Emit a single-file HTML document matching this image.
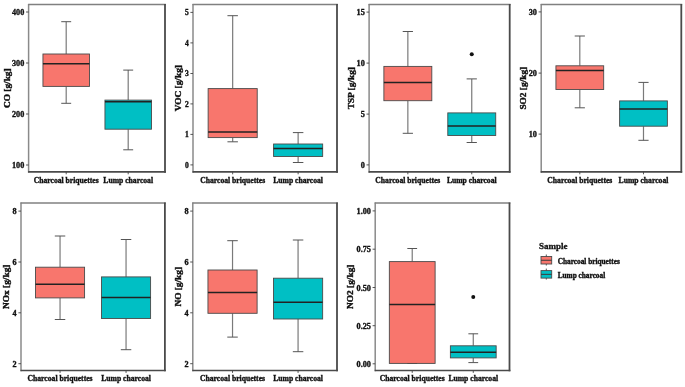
<!DOCTYPE html>
<html><head><meta charset="utf-8"><style>
html,body{margin:0;padding:0;background:#fff;}
body{width:685px;height:387px;overflow:hidden;}
svg{display:block;filter:blur(0.35px);}
text{font-family:"Liberation Serif",serif;font-weight:bold;fill:#111;stroke:#111;stroke-width:0.25px;}
.yl{font-size:8.2px;text-anchor:end;fill:#111;stroke:#111;stroke-width:0.35px;}
.xl{font-size:7.65px;text-anchor:middle;fill:#111;stroke:#111;stroke-width:0.35px;}
.ti{font-size:9.35px;text-anchor:middle;fill:#111;stroke:#111;stroke-width:0.45px;}
.lt{font-size:9px;fill:#111;stroke:#111;stroke-width:0.3px;}
.ll{font-size:7.3px;fill:#111;stroke:#111;stroke-width:0.35px;}
.w{stroke:#555;stroke-width:1.0;}
.wv{stroke:#7a7a7a;stroke-width:1.2;}
.b{stroke:#4a4a4a;stroke-width:0.9;}
.m{stroke:#222;stroke-width:1.5;}
.lm{stroke:#3a3a3a;stroke-width:1.0;}
.fl{stroke:#8a8a8a;stroke-width:1.5;}
.ft{stroke:#808080;stroke-width:1.3;}
.fr{stroke:#4a4a4a;stroke-width:1.8;}
.fb{stroke:#4a4a4a;stroke-width:1.7;}
.t{stroke:#444;stroke-width:0.9;}
</style></head><body>
<svg width="685" height="387" viewBox="0 0 685 387">
<rect width="685" height="387" fill="#fff"/>
<line x1="66.20" y1="21.70" x2="66.20" y2="54.00" class="wv"/>
<line x1="66.20" y1="86.40" x2="66.20" y2="103.30" class="wv"/>
<line x1="61.24" y1="21.70" x2="71.16" y2="21.70" class="w"/>
<line x1="61.24" y1="103.30" x2="71.16" y2="103.30" class="w"/>
<rect x="42.95" y="54.00" width="46.50" height="32.40" fill="#F8766D" class="b"/>
<line x1="42.95" y1="63.80" x2="89.45" y2="63.80" class="m"/>
<line x1="128.20" y1="70.10" x2="128.20" y2="100.10" class="wv"/>
<line x1="128.20" y1="129.20" x2="128.20" y2="149.80" class="wv"/>
<line x1="123.24" y1="70.10" x2="133.16" y2="70.10" class="w"/>
<line x1="123.24" y1="149.80" x2="133.16" y2="149.80" class="w"/>
<rect x="104.95" y="100.10" width="46.50" height="29.10" fill="#00BFC4" class="b"/>
<line x1="104.95" y1="101.70" x2="151.45" y2="101.70" class="m"/>
<line x1="28.60" y1="4.00" x2="28.60" y2="172.70" class="fl"/>
<line x1="28.10" y1="4.50" x2="165.90" y2="4.50" class="ft"/>
<line x1="165.00" y1="4.00" x2="165.00" y2="172.70" class="fr"/>
<line x1="28.10" y1="171.90" x2="165.90" y2="171.90" class="fb"/>
<line x1="26.00" y1="12.00" x2="28.60" y2="12.00" class="t"/>
<text x="24.30" y="15.10" class="yl" style="font-size:8.2px">400</text>
<line x1="26.00" y1="63.00" x2="28.60" y2="63.00" class="t"/>
<text x="24.30" y="66.10" class="yl" style="font-size:8.2px">300</text>
<line x1="26.00" y1="114.00" x2="28.60" y2="114.00" class="t"/>
<text x="24.30" y="117.10" class="yl" style="font-size:8.2px">200</text>
<line x1="26.00" y1="165.00" x2="28.60" y2="165.00" class="t"/>
<text x="24.30" y="168.10" class="yl" style="font-size:8.2px">100</text>
<line x1="66.20" y1="171.90" x2="66.20" y2="174.30" class="t"/>
<text x="66.20" y="183.20" class="xl">Charcoal briquettes</text>
<line x1="128.20" y1="171.90" x2="128.20" y2="174.30" class="t"/>
<text x="128.20" y="183.20" class="xl">Lump charcoal</text>
<text transform="translate(9.70,88.20) scale(0.8,1) rotate(-90)" class="ti">CO [g/kg]</text>
<line x1="232.67" y1="15.70" x2="232.67" y2="88.60" class="wv"/>
<line x1="232.67" y1="137.60" x2="232.67" y2="141.80" class="wv"/>
<line x1="227.44" y1="15.70" x2="237.91" y2="15.70" class="w"/>
<line x1="227.44" y1="141.80" x2="237.91" y2="141.80" class="w"/>
<rect x="208.13" y="88.60" width="49.09" height="49.00" fill="#F8766D" class="b"/>
<line x1="208.13" y1="132.00" x2="257.22" y2="132.00" class="m"/>
<line x1="298.13" y1="132.60" x2="298.13" y2="144.00" class="wv"/>
<line x1="298.13" y1="156.50" x2="298.13" y2="162.50" class="wv"/>
<line x1="292.89" y1="132.60" x2="303.36" y2="132.60" class="w"/>
<line x1="292.89" y1="162.50" x2="303.36" y2="162.50" class="w"/>
<rect x="273.58" y="144.00" width="49.09" height="12.50" fill="#00BFC4" class="b"/>
<line x1="273.58" y1="148.50" x2="322.67" y2="148.50" class="m"/>
<line x1="193.00" y1="4.00" x2="193.00" y2="172.70" class="fl"/>
<line x1="192.50" y1="4.50" x2="337.90" y2="4.50" class="ft"/>
<line x1="337.00" y1="4.00" x2="337.00" y2="172.70" class="fr"/>
<line x1="192.50" y1="171.90" x2="337.90" y2="171.90" class="fb"/>
<line x1="190.40" y1="12.40" x2="193.00" y2="12.40" class="t"/>
<text x="188.70" y="15.24" class="yl" style="font-size:7.5px">5</text>
<line x1="190.40" y1="42.90" x2="193.00" y2="42.90" class="t"/>
<text x="188.70" y="45.74" class="yl" style="font-size:7.5px">4</text>
<line x1="190.40" y1="73.50" x2="193.00" y2="73.50" class="t"/>
<text x="188.70" y="76.34" class="yl" style="font-size:7.5px">3</text>
<line x1="190.40" y1="103.90" x2="193.00" y2="103.90" class="t"/>
<text x="188.70" y="106.74" class="yl" style="font-size:7.5px">2</text>
<line x1="190.40" y1="134.40" x2="193.00" y2="134.40" class="t"/>
<text x="188.70" y="137.24" class="yl" style="font-size:7.5px">1</text>
<line x1="190.40" y1="164.90" x2="193.00" y2="164.90" class="t"/>
<text x="188.70" y="167.74" class="yl" style="font-size:7.5px">0</text>
<line x1="232.67" y1="171.90" x2="232.67" y2="174.30" class="t"/>
<text x="232.67" y="183.20" class="xl">Charcoal briquettes</text>
<line x1="298.13" y1="171.90" x2="298.13" y2="174.30" class="t"/>
<text x="298.13" y="183.20" class="xl">Lump charcoal</text>
<text transform="translate(181.00,88.20) scale(0.8,1) rotate(-90)" class="ti">VOC [g/kg]</text>
<line x1="407.85" y1="31.50" x2="407.85" y2="66.40" class="wv"/>
<line x1="407.85" y1="100.70" x2="407.85" y2="133.30" class="wv"/>
<line x1="402.73" y1="31.50" x2="412.96" y2="31.50" class="w"/>
<line x1="402.73" y1="133.30" x2="412.96" y2="133.30" class="w"/>
<rect x="383.88" y="66.40" width="47.93" height="34.30" fill="#F8766D" class="b"/>
<line x1="383.88" y1="82.40" x2="431.81" y2="82.40" class="m"/>
<line x1="471.75" y1="78.90" x2="471.75" y2="112.90" class="wv"/>
<line x1="471.75" y1="135.50" x2="471.75" y2="142.50" class="wv"/>
<line x1="466.64" y1="78.90" x2="476.87" y2="78.90" class="w"/>
<line x1="466.64" y1="142.50" x2="476.87" y2="142.50" class="w"/>
<rect x="447.79" y="112.90" width="47.93" height="22.60" fill="#00BFC4" class="b"/>
<line x1="447.79" y1="126.10" x2="495.72" y2="126.10" class="m"/>
<circle cx="471.75" cy="54.30" r="2.0" fill="#111"/>
<line x1="369.10" y1="4.00" x2="369.10" y2="172.70" class="fl"/>
<line x1="368.60" y1="4.50" x2="510.60" y2="4.50" class="ft"/>
<line x1="509.70" y1="4.00" x2="509.70" y2="172.70" class="fr"/>
<line x1="368.60" y1="171.90" x2="510.60" y2="171.90" class="fb"/>
<line x1="366.50" y1="12.10" x2="369.10" y2="12.10" class="t"/>
<text x="364.80" y="15.20" class="yl" style="font-size:8.2px">15</text>
<line x1="366.50" y1="63.10" x2="369.10" y2="63.10" class="t"/>
<text x="364.80" y="66.20" class="yl" style="font-size:8.2px">10</text>
<line x1="366.50" y1="114.10" x2="369.10" y2="114.10" class="t"/>
<text x="364.80" y="117.20" class="yl" style="font-size:8.2px">5</text>
<line x1="366.50" y1="164.90" x2="369.10" y2="164.90" class="t"/>
<text x="364.80" y="168.00" class="yl" style="font-size:8.2px">0</text>
<line x1="407.85" y1="171.90" x2="407.85" y2="174.30" class="t"/>
<text x="407.85" y="183.20" class="xl">Charcoal briquettes</text>
<line x1="471.75" y1="171.90" x2="471.75" y2="174.30" class="t"/>
<text x="471.75" y="183.20" class="xl">Lump charcoal</text>
<text transform="translate(353.50,88.20) scale(0.8,1) rotate(-90)" class="ti">TSP [g/kg]</text>
<line x1="579.81" y1="36.00" x2="579.81" y2="65.80" class="wv"/>
<line x1="579.81" y1="89.50" x2="579.81" y2="107.80" class="wv"/>
<line x1="574.71" y1="36.00" x2="584.90" y2="36.00" class="w"/>
<line x1="574.71" y1="107.80" x2="584.90" y2="107.80" class="w"/>
<rect x="555.93" y="65.80" width="47.76" height="23.70" fill="#F8766D" class="b"/>
<line x1="555.93" y1="70.50" x2="603.69" y2="70.50" class="m"/>
<line x1="643.49" y1="82.40" x2="643.49" y2="100.90" class="wv"/>
<line x1="643.49" y1="126.20" x2="643.49" y2="140.30" class="wv"/>
<line x1="638.40" y1="82.40" x2="648.59" y2="82.40" class="w"/>
<line x1="638.40" y1="140.30" x2="648.59" y2="140.30" class="w"/>
<rect x="619.61" y="100.90" width="47.76" height="25.30" fill="#00BFC4" class="b"/>
<line x1="619.61" y1="109.10" x2="667.37" y2="109.10" class="m"/>
<line x1="541.20" y1="4.00" x2="541.20" y2="172.70" class="fl"/>
<line x1="540.70" y1="4.50" x2="682.20" y2="4.50" class="ft"/>
<line x1="681.30" y1="4.00" x2="681.30" y2="172.70" class="fr"/>
<line x1="540.70" y1="171.90" x2="682.20" y2="171.90" class="fb"/>
<line x1="538.60" y1="11.90" x2="541.20" y2="11.90" class="t"/>
<text x="536.90" y="15.00" class="yl" style="font-size:8.2px">30</text>
<line x1="538.60" y1="73.10" x2="541.20" y2="73.10" class="t"/>
<text x="536.90" y="76.20" class="yl" style="font-size:8.2px">20</text>
<line x1="538.60" y1="134.10" x2="541.20" y2="134.10" class="t"/>
<text x="536.90" y="137.20" class="yl" style="font-size:8.2px">10</text>
<line x1="579.81" y1="171.90" x2="579.81" y2="174.30" class="t"/>
<text x="579.81" y="183.20" class="xl">Charcoal briquettes</text>
<line x1="643.49" y1="171.90" x2="643.49" y2="174.30" class="t"/>
<text x="643.49" y="183.20" class="xl">Lump charcoal</text>
<text transform="translate(526.20,88.20) scale(0.8,1) rotate(-90)" class="ti">SO2 [g/kg]</text>
<line x1="60.05" y1="236.00" x2="60.05" y2="267.20" class="wv"/>
<line x1="60.05" y1="297.90" x2="60.05" y2="319.50" class="wv"/>
<line x1="54.81" y1="236.00" x2="65.28" y2="236.00" class="w"/>
<line x1="54.81" y1="319.50" x2="65.28" y2="319.50" class="w"/>
<rect x="35.52" y="267.20" width="49.06" height="30.70" fill="#F8766D" class="b"/>
<line x1="35.52" y1="284.30" x2="84.57" y2="284.30" class="m"/>
<line x1="126.05" y1="239.50" x2="126.05" y2="276.90" class="wv"/>
<line x1="126.05" y1="318.50" x2="126.05" y2="349.70" class="wv"/>
<line x1="120.82" y1="239.50" x2="131.29" y2="239.50" class="w"/>
<line x1="120.82" y1="349.70" x2="131.29" y2="349.70" class="w"/>
<rect x="101.53" y="276.90" width="49.06" height="41.60" fill="#00BFC4" class="b"/>
<line x1="101.53" y1="297.60" x2="150.58" y2="297.60" class="m"/>
<line x1="21.00" y1="202.50" x2="21.00" y2="371.30" class="fl"/>
<line x1="20.50" y1="203.00" x2="165.80" y2="203.00" class="ft"/>
<line x1="164.90" y1="202.50" x2="164.90" y2="371.30" class="fr"/>
<line x1="20.50" y1="370.50" x2="165.80" y2="370.50" class="fb"/>
<line x1="18.40" y1="211.10" x2="21.00" y2="211.10" class="t"/>
<text x="16.70" y="214.20" class="yl" style="font-size:8.2px">8</text>
<line x1="18.40" y1="262.00" x2="21.00" y2="262.00" class="t"/>
<text x="16.70" y="265.10" class="yl" style="font-size:8.2px">6</text>
<line x1="18.40" y1="312.80" x2="21.00" y2="312.80" class="t"/>
<text x="16.70" y="315.90" class="yl" style="font-size:8.2px">4</text>
<line x1="18.40" y1="363.70" x2="21.00" y2="363.70" class="t"/>
<text x="16.70" y="366.80" class="yl" style="font-size:8.2px">2</text>
<line x1="60.05" y1="370.50" x2="60.05" y2="372.90" class="t"/>
<text x="60.05" y="381.30" class="xl">Charcoal briquettes</text>
<line x1="126.05" y1="370.50" x2="126.05" y2="372.90" class="t"/>
<text x="126.05" y="381.30" class="xl">Lump charcoal</text>
<text transform="translate(9.00,286.75) scale(0.8,1) rotate(-90)" class="ti">NOx [g/kg]</text>
<line x1="232.53" y1="240.70" x2="232.53" y2="270.00" class="wv"/>
<line x1="232.53" y1="313.30" x2="232.53" y2="337.10" class="wv"/>
<line x1="227.28" y1="240.70" x2="237.77" y2="240.70" class="w"/>
<line x1="227.28" y1="337.10" x2="237.77" y2="337.10" class="w"/>
<rect x="207.95" y="270.00" width="49.16" height="43.30" fill="#F8766D" class="b"/>
<line x1="207.95" y1="292.40" x2="257.11" y2="292.40" class="m"/>
<line x1="298.07" y1="240.00" x2="298.07" y2="278.20" class="wv"/>
<line x1="298.07" y1="319.00" x2="298.07" y2="351.70" class="wv"/>
<line x1="292.83" y1="240.00" x2="303.32" y2="240.00" class="w"/>
<line x1="292.83" y1="351.70" x2="303.32" y2="351.70" class="w"/>
<rect x="273.49" y="278.20" width="49.16" height="40.80" fill="#00BFC4" class="b"/>
<line x1="273.49" y1="302.30" x2="322.65" y2="302.30" class="m"/>
<line x1="192.80" y1="202.50" x2="192.80" y2="371.30" class="fl"/>
<line x1="192.30" y1="203.00" x2="337.90" y2="203.00" class="ft"/>
<line x1="337.00" y1="202.50" x2="337.00" y2="371.30" class="fr"/>
<line x1="192.30" y1="370.50" x2="337.90" y2="370.50" class="fb"/>
<line x1="190.20" y1="211.10" x2="192.80" y2="211.10" class="t"/>
<text x="188.50" y="214.20" class="yl" style="font-size:8.2px">8</text>
<line x1="190.20" y1="262.00" x2="192.80" y2="262.00" class="t"/>
<text x="188.50" y="265.10" class="yl" style="font-size:8.2px">6</text>
<line x1="190.20" y1="312.80" x2="192.80" y2="312.80" class="t"/>
<text x="188.50" y="315.90" class="yl" style="font-size:8.2px">4</text>
<line x1="190.20" y1="363.70" x2="192.80" y2="363.70" class="t"/>
<text x="188.50" y="366.80" class="yl" style="font-size:8.2px">2</text>
<line x1="232.53" y1="370.50" x2="232.53" y2="372.90" class="t"/>
<text x="232.53" y="381.30" class="xl">Charcoal briquettes</text>
<line x1="298.07" y1="370.50" x2="298.07" y2="372.90" class="t"/>
<text x="298.07" y="381.30" class="xl">Lump charcoal</text>
<text transform="translate(180.90,286.75) scale(0.8,1) rotate(-90)" class="ti">NO [g/kg]</text>
<line x1="412.23" y1="248.50" x2="412.23" y2="261.60" class="wv"/>
<line x1="412.23" y1="363.40" x2="412.23" y2="363.50" class="wv"/>
<line x1="407.34" y1="248.50" x2="417.11" y2="248.50" class="w"/>
<line x1="407.34" y1="363.50" x2="417.11" y2="363.50" class="w"/>
<rect x="389.34" y="261.60" width="45.78" height="101.80" fill="#F8766D" class="b"/>
<line x1="389.34" y1="304.60" x2="435.12" y2="304.60" class="m"/>
<line x1="473.27" y1="333.80" x2="473.27" y2="345.80" class="wv"/>
<line x1="473.27" y1="357.90" x2="473.27" y2="362.60" class="wv"/>
<line x1="468.39" y1="333.80" x2="478.16" y2="333.80" class="w"/>
<line x1="468.39" y1="362.60" x2="478.16" y2="362.60" class="w"/>
<rect x="450.38" y="345.80" width="45.78" height="12.10" fill="#00BFC4" class="b"/>
<line x1="450.38" y1="352.20" x2="496.16" y2="352.20" class="m"/>
<circle cx="473.27" cy="296.90" r="2.0" fill="#111"/>
<line x1="375.20" y1="202.50" x2="375.20" y2="371.30" class="fl"/>
<line x1="374.70" y1="203.00" x2="510.40" y2="203.00" class="ft"/>
<line x1="509.50" y1="202.50" x2="509.50" y2="371.30" class="fr"/>
<line x1="374.70" y1="370.50" x2="510.40" y2="370.50" class="fb"/>
<line x1="372.60" y1="210.90" x2="375.20" y2="210.90" class="t"/>
<text x="370.90" y="214.00" class="yl" style="font-size:8.2px">1.00</text>
<line x1="372.60" y1="249.20" x2="375.20" y2="249.20" class="t"/>
<text x="370.90" y="252.30" class="yl" style="font-size:8.2px">0.75</text>
<line x1="372.60" y1="287.50" x2="375.20" y2="287.50" class="t"/>
<text x="370.90" y="290.60" class="yl" style="font-size:8.2px">0.50</text>
<line x1="372.60" y1="325.70" x2="375.20" y2="325.70" class="t"/>
<text x="370.90" y="328.80" class="yl" style="font-size:8.2px">0.25</text>
<line x1="372.60" y1="363.80" x2="375.20" y2="363.80" class="t"/>
<text x="370.90" y="366.90" class="yl" style="font-size:8.2px">0.00</text>
<line x1="412.23" y1="370.50" x2="412.23" y2="372.90" class="t"/>
<text x="412.23" y="381.30" class="xl">Charcoal briquettes</text>
<line x1="473.27" y1="370.50" x2="473.27" y2="372.90" class="t"/>
<text x="473.27" y="381.30" class="xl">Lump charcoal</text>
<text transform="translate(353.20,286.75) scale(0.8,1) rotate(-90)" class="ti">NO2 [g/kg]</text>
<text x="539" y="249.4" class="lt">Sample</text>
<line x1="546.3" y1="254.5" x2="546.3" y2="265.5" class="w"/>
<rect x="541" y="256.5" width="10.7" height="7.5" fill="#F8766D" class="b"/>
<line x1="541" y1="260.25" x2="551.7" y2="260.25" class="lm"/>
<text x="557.7" y="264.20" class="ll">Charcoal briquettes</text>
<line x1="546.3" y1="268.6" x2="546.3" y2="279.6" class="w"/>
<rect x="541" y="270.6" width="10.7" height="7.5" fill="#00BFC4" class="b"/>
<line x1="541" y1="274.35" x2="551.7" y2="274.35" class="lm"/>
<text x="557.7" y="278.30" class="ll">Lump charcoal</text>
</svg>
</body></html>
